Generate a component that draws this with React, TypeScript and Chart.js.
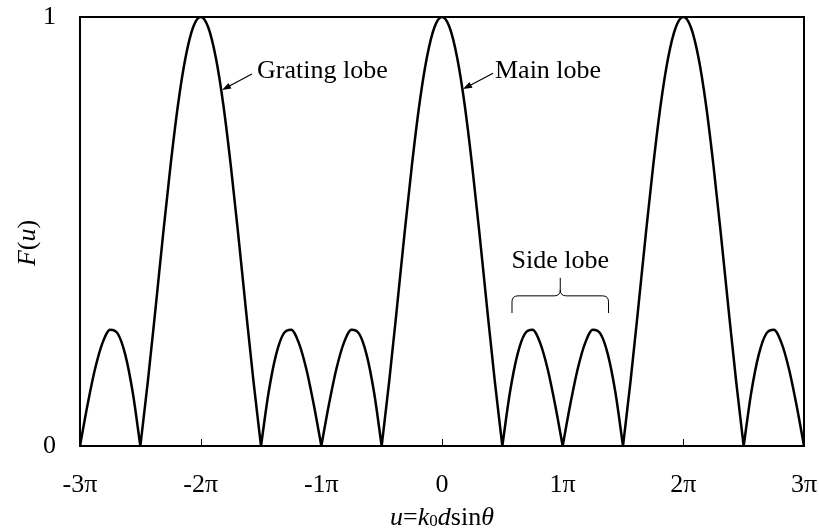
import React, { useEffect, useRef } from 'react';
import { Chart, registerables } from 'chart.js';

Chart.register(...registerables);

// u in units of π
const uValues: number[] = [
  -3, -2.9375, -2.875, -2.8125, -2.75, -2.6875, -2.625, -2.5625,
  -2.5, -2.4375, -2.375, -2.3125, -2.25, -2.1875, -2.125, -2.0625,
  -2, -1.9375, -1.875, -1.8125, -1.75, -1.6875, -1.625, -1.5625,
  -1.5, -1.4375, -1.375, -1.3125, -1.25, -1.1875, -1.125, -1.0625,
  -1, -0.9375, -0.875, -0.8125, -0.75, -0.6875, -0.625, -0.5625,
  -0.5, -0.4375, -0.375, -0.3125, -0.25, -0.1875, -0.125, -0.0625,
  0, 0.0625, 0.125, 0.1875, 0.25, 0.3125, 0.375, 0.4375,
  0.5, 0.5625, 0.625, 0.6875, 0.75, 0.8125, 0.875, 0.9375,
  1, 1.0625, 1.125, 1.1875, 1.25, 1.3125, 1.375, 1.4375,
  1.5, 1.5625, 1.625, 1.6875, 1.75, 1.8125, 1.875, 1.9375,
  2, 2.0625, 2.125, 2.1875, 2.25, 2.3125, 2.375, 2.4375,
  2.5, 2.5625, 2.625, 2.6875, 2.75, 2.8125, 2.875, 2.9375,
  3,
];

// F(u)
const fValues: number[] = [
  0, 0.096, 0.18, 0.241, 0.271, 0.262, 0.213, 0.124,
  0, 0.151, 0.318, 0.49, 0.653, 0.796, 0.906, 0.976,
  1, 0.976, 0.906, 0.796, 0.653, 0.49, 0.318, 0.151,
  0, 0.124, 0.213, 0.262, 0.271, 0.241, 0.18, 0.096,
  0, 0.096, 0.18, 0.241, 0.271, 0.262, 0.213, 0.124,
  0, 0.151, 0.318, 0.49, 0.653, 0.796, 0.906, 0.976,
  1, 0.976, 0.906, 0.796, 0.653, 0.49, 0.318, 0.151,
  0, 0.124, 0.213, 0.262, 0.271, 0.241, 0.18, 0.096,
  0, 0.096, 0.18, 0.241, 0.271, 0.262, 0.213, 0.124,
  0, 0.151, 0.318, 0.49, 0.653, 0.796, 0.906, 0.976,
  1, 0.976, 0.906, 0.796, 0.653, 0.49, 0.318, 0.151,
  0, 0.124, 0.213, 0.262, 0.271, 0.241, 0.18, 0.096,
  0,
];

const xTickValues: number[] = [-3, -2, -1, 0, 1, 2, 3];
const xTickLabels: string[] = ['-3π', '-2π', '-1π', '0', '1π', '2π', '3π'];
const yTickValues: number[] = [0, 1];
const yTickLabels: string[] = ['0', '1'];

const annotationTexts: string[] = ['Grating lobe', 'Main lobe', 'Side lobe'];

const FONT = '"Liberation Serif", "Times New Roman", serif';

function buildData() {
  const pts: ({ x: number; y: number | null })[] = [];
  for (let i = 0; i < uValues.length; i++) {
    const x = uValues[i];
    const y = fValues[i];
    pts.push({ x, y });
    if (y === 0 && i > 0 && i < uValues.length - 1) {
      pts.push({ x, y: null });
      pts.push({ x, y });
    }
  }
  return pts;
}

type Piece = { t: string; style: 'i' | 'n' | 'sub' };

function drawPieces(ctx: CanvasRenderingContext2D, pieces: Piece[], cx: number, baseline: number, size: number) {
  const fontFor = (p: Piece) =>
    p.style === 'i' ? `italic ${size}px ${FONT}` : p.style === 'sub' ? `${Math.round(size * 0.65)}px ${FONT}` : `${size}px ${FONT}`;
  let total = 0;
  const widths = pieces.map((p) => {
    ctx.font = fontFor(p);
    const w = ctx.measureText(p.t).width;
    total += w;
    return w;
  });
  let x = cx - total / 2;
  ctx.textAlign = 'left';
  ctx.textBaseline = 'alphabetic';
  pieces.forEach((p, i) => {
    ctx.font = fontFor(p);
    ctx.fillText(p.t, x, p.style === 'sub' ? baseline + 1 : baseline);
    x += widths[i];
  });
}

function arrow(ctx: CanvasRenderingContext2D, x0: number, y0: number, x1: number, y1: number) {
  const ang = Math.atan2(y1 - y0, x1 - x0);
  const hl = 9;
  const hw = 3.2;
  ctx.beginPath();
  ctx.moveTo(x0, y0);
  ctx.lineTo(x1 - Math.cos(ang) * hl * 0.8, y1 - Math.sin(ang) * hl * 0.8);
  ctx.lineWidth = 1.2;
  ctx.stroke();
  ctx.beginPath();
  ctx.moveTo(x1, y1);
  ctx.lineTo(x1 - Math.cos(ang) * hl - Math.sin(ang) * hw, y1 - Math.sin(ang) * hl + Math.cos(ang) * hw);
  ctx.lineTo(x1 - Math.cos(ang) * hl + Math.sin(ang) * hw, y1 - Math.sin(ang) * hl - Math.cos(ang) * hw);
  ctx.closePath();
  ctx.fill();
}

const decorPlugin = {
  id: 'decor',
  afterDraw(chart: any) {
    const { ctx, chartArea } = chart;
    const { left, top, right, bottom } = chartArea;
    const xs = chart.scales.x;
    const ys = chart.scales.y;
    ctx.save();
    ctx.strokeStyle = '#000';
    ctx.fillStyle = '#000';
    // frame
    ctx.lineWidth = 2;
    ctx.strokeRect(left, top, right - left, bottom - top);
    // inward x ticks
    ctx.lineWidth = 1;
    xTickValues.forEach((v) => {
      const px = Math.round(xs.getPixelForValue(v)) + 0.5;
      ctx.beginPath();
      ctx.moveTo(px, bottom);
      ctx.lineTo(px, bottom - 7);
      ctx.stroke();
    });

    const X = (v: number) => xs.getPixelForValue(v);
    const Y = (v: number) => ys.getPixelForValue(v);

    // annotations
    ctx.font = `26px ${FONT}`;
    ctx.textBaseline = 'alphabetic';
    ctx.textAlign = 'left';
    ctx.fillText(annotationTexts[0], X(-1.533), Y(0.858));
    arrow(ctx, X(-1.575), Y(0.867), X(-1.823), Y(0.83));
    ctx.fillText(annotationTexts[1], X(0.439), Y(0.858));
    arrow(ctx, X(0.423), Y(0.869), X(0.174), Y(0.832));
    ctx.textAlign = 'center';
    ctx.fillText(annotationTexts[2], X(0.98), Y(0.415));

    // brace
    const bl = X(0.58), br = X(1.38), bc = X(0.98);
    const yTip = Y(0.392), yLine = Y(0.35), yEnd = Y(0.31);
    const r = 6;
    ctx.lineWidth = 1;
    ctx.beginPath();
    ctx.moveTo(bl, yEnd);
    ctx.lineTo(bl, yLine + r);
    ctx.quadraticCurveTo(bl, yLine, bl + r, yLine);
    ctx.lineTo(bc - r, yLine);
    ctx.quadraticCurveTo(bc, yLine, bc, yLine - r);
    ctx.lineTo(bc, yTip);
    ctx.moveTo(bc, yLine - r);
    ctx.quadraticCurveTo(bc, yLine, bc + r, yLine);
    ctx.lineTo(br - r, yLine);
    ctx.quadraticCurveTo(br, yLine, br, yLine + r);
    ctx.lineTo(br, yEnd);
    ctx.stroke();

    // x axis title
    drawPieces(
      ctx,
      [
        { t: 'u', style: 'i' },
        { t: '=', style: 'n' },
        { t: 'k', style: 'i' },
        { t: '0', style: 'sub' },
        { t: 'd', style: 'i' },
        { t: 'sin', style: 'n' },
        { t: 'θ', style: 'i' },
      ],
      (left + right) / 2,
      525,
      26
    );
    // y axis title
    ctx.save();
    ctx.translate(35, 243);
    ctx.rotate(-Math.PI / 2);
    drawPieces(
      ctx,
      [
        { t: 'F', style: 'i' },
        { t: '(', style: 'n' },
        { t: 'u', style: 'i' },
        { t: ')', style: 'n' },
      ],
      0,
      0,
      26
    );
    ctx.restore();
    ctx.restore();
  },
};

export default function App() {
  const ref = useRef<HTMLCanvasElement | null>(null);
  useEffect(() => {
    if (!ref.current) return;
    const chart = new Chart(ref.current, {
      type: 'line',
      data: {
        datasets: [
          {
            data: buildData() as any,
            borderColor: '#000',
            borderWidth: 2.5,
            pointRadius: 0,
            fill: false,
            spanGaps: false,
            cubicInterpolationMode: 'monotone',
          },
        ],
      },
      options: {
        animation: false,
        responsive: false,
        layout: { padding: { top: 17, right: 15, left: 0, bottom: 0 } },
        plugins: { legend: { display: false }, tooltip: { enabled: false } },
        scales: {
          x: {
            type: 'linear',
            min: -3,
            max: 3,
            afterFit: (s: any) => {
              s.height = 83;
              s.paddingLeft = 0;
              s.paddingRight = 0;
              s.paddingTop = 0;
              s.paddingBottom = 0;
            },
            afterBuildTicks: (s: any) => {
              s.ticks = xTickValues.map((v) => ({ value: v }));
            },
            grid: { display: false, drawTicks: false },
            border: { display: false },
            ticks: {
              padding: 24,
              color: '#000',
              font: { family: FONT, size: 26 },
              maxRotation: 0,
              autoSkip: false,
              callback: (v: any) => {
                const i = xTickValues.indexOf(Number(v));
                return i >= 0 ? xTickLabels[i] : '';
              },
            },
          },
          y: {
            type: 'linear',
            min: 0,
            max: 1,
            afterFit: (s: any) => {
              s.width = 80;
              s.paddingLeft = 0;
              s.paddingRight = 0;
              s.paddingTop = 0;
              s.paddingBottom = 0;
            },
            afterBuildTicks: (s: any) => {
              s.ticks = yTickValues.map((v) => ({ value: v }));
            },
            grid: { display: false, drawTicks: false },
            border: { display: false },
            ticks: {
              padding: 24,
              color: '#000',
              font: { family: FONT, size: 26 },
              callback: (v: any) => {
                const i = yTickValues.indexOf(Number(v));
                return i >= 0 ? yTickLabels[i] : '';
              },
            },
          },
        },
      },
      plugins: [decorPlugin],
    });
    return () => chart.destroy();
  }, []);
  return (
    <div style={{ position: 'absolute', left: 0, top: 0, width: 819, height: 529, background: '#fff' }}>
      <canvas ref={ref} width={819} height={529} />
    </div>
  );
}
